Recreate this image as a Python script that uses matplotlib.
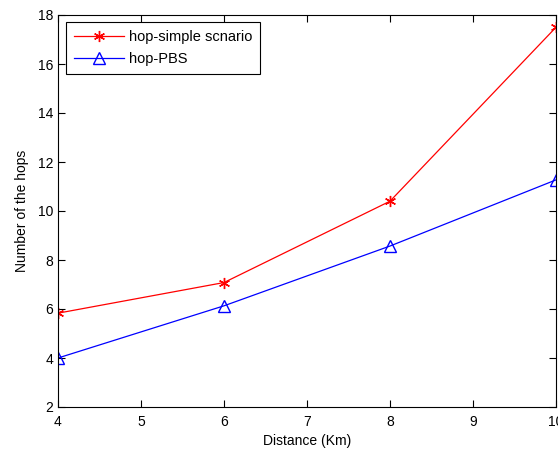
import matplotlib
matplotlib.use("Agg")
import matplotlib.pyplot as plt

# hop count vs. distance
distance = [4, 6, 8, 10]
hops_simple = [5.83, 7.08, 10.4, 17.5]
hops_pbs = [4.0, 6.13, 8.57, 11.27]

plt.rcParams.update({"font.family": ["Liberation Sans", "DejaVu Sans"], "font.size": 10})

fig = plt.figure(figsize=(5.58, 4.51), dpi=100)
ax = fig.add_axes([58/558, 44/451, 498/558, 392/451])

ax.plot(distance, hops_simple, "-", color="red", lw=0.9, marker=(6, 2, 0), ms=8,
        mec="red", mfc="red", mew=1.0, label="hop-simple scnario")
ax.plot(distance, hops_pbs, "-", color="blue", lw=0.9, marker="^", ms=8,
        mec="blue", mfc="none", mew=1.0, label="hop-PBS")

ax.set_xlim(4, 10)
ax.set_ylim(2, 18)
ax.set_xticks(range(4, 11))
ax.set_yticks(range(2, 19, 2))
ax.tick_params(direction="in", length=5, width=0.8, top=True, right=True, labelsize=10)
ax.tick_params(axis="x", pad=6)
for sp in ax.spines.values():
    sp.set_linewidth(0.8)
ax.set_xlabel("Distance (Km)", labelpad=3)
ax.set_ylabel("Number of the hops", labelpad=6)

leg = ax.legend(loc="upper left", bbox_to_anchor=(0.016, 0.982), borderaxespad=0,
                fancybox=False, framealpha=1, edgecolor="black", handlelength=3.4,
                borderpad=0.55, labelspacing=0.55, handletextpad=0.35, fontsize=10.5)
leg.get_frame().set_linewidth(0.8)

fig.savefig("out.png", dpi=100)
